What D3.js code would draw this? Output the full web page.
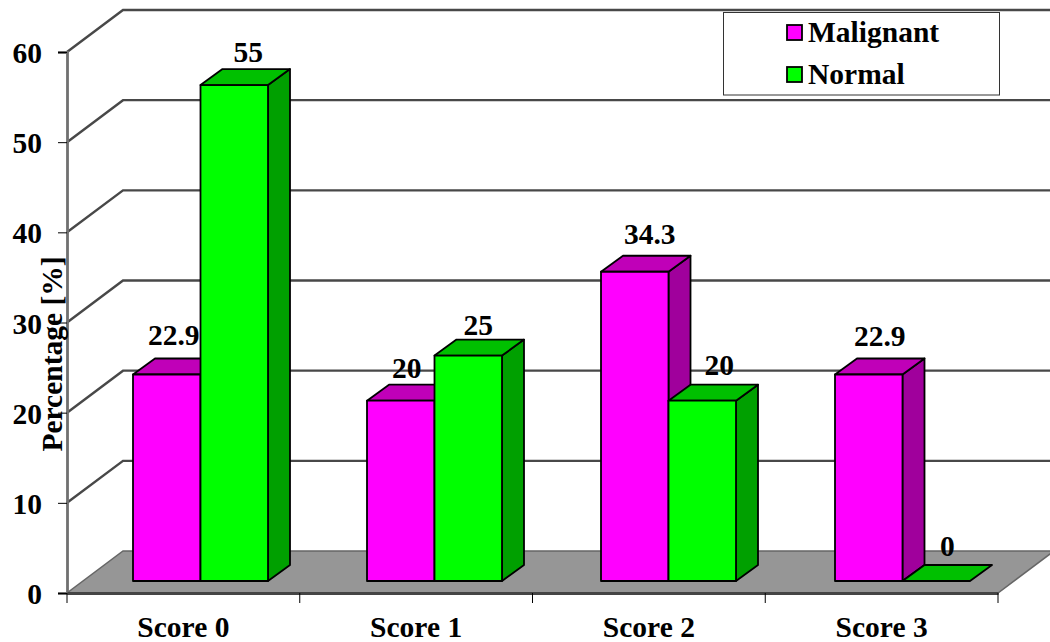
<!DOCTYPE html>
<html>
<head>
<meta charset="utf-8">
<style>
html,body{margin:0;padding:0;background:#fff}
svg{display:block}
text{font-family:"Liberation Serif","Times New Roman",serif;font-weight:bold;fill:#000}
</style>
<script src="https://cdn.jsdelivr.net/npm/d3@7/dist/d3.min.js"></script>
</head>
<body>
<svg id="chart" width="1050" height="642"></svg>
<script>
const categories = ["Score 0", "Score 1", "Score 2", "Score 3"];
const seriesNames = ["Malignant", "Normal"];
const malignant = [22.9, 20, 34.3, 22.9];
const normal = [55, 25, 20, 0];
const yTicks = [0, 10, 20, 30, 40, 50, 60];

const seriesValues = [malignant, normal];
const faceColors = [
  {front: "#ff00ff", side: "#a0009c", top: "#c000b8"},
  {front: "#00ff00", side: "#00a000", top: "#00c000"}
];
// Small per-label shifts that keep value labels clear of neighbouring bars.
const labelNudge = [
  [[-4, -4], [3, 3]],
  [[-5, 3], [-1, 5]],
  [[4, -2], [6, 0]],
  [[0, -3], [0, 1]]
];

const svg = d3.select("#chart");
const fontSize = 29.5;
const x = d3.scaleBand().domain(categories).range([67, 998]);
const barGroup = d3.scaleBand().domain(categories).range([67, 1003]);
const y = d3.scaleLinear().domain([0, 60]).range([593, 52]);
const inner = d3.scaleBand().domain(d3.range(seriesNames.length)).range([66, 201]);

// Projection offsets of the oblique view.
const wall = {dx: 56, dy: -42};
const barFront = {dy: -12};
const barDepth = {dx: 22, dy: -16};
const rightEdge = 1050;
const lineGrey = "#484848";
const pts = a => a.map(p => p.join(",")).join(" ");

// Back wall and side wall gridlines.
svg.append("g").selectAll("polyline").data(yTicks.slice(1)).join("polyline")
  .attr("points", d => pts([[x.range()[0], y(d)], [x.range()[0] + wall.dx, y(d) + wall.dy], [rightEdge, y(d) + wall.dy]]))
  .attr("fill", "none").attr("stroke", lineGrey).attr("stroke-width", 2.4);

// Floor of the plot.
const floorY = y(0);
svg.append("polygon")
  .attr("points", pts([[x.range()[0], floorY], [x.range()[1], floorY],
    [x.range()[1] + wall.dx, floorY + wall.dy], [x.range()[0] + wall.dx, floorY + wall.dy]]))
  .attr("fill", "#969696").attr("stroke", "#666").attr("stroke-width", 1.5);

// Axes.
const yAxis = d3.axisLeft(y).tickValues(yTicks).tickSize(9).tickPadding(16);
const gy = svg.append("g").attr("transform", `translate(${x.range()[0]},0)`).call(yAxis);
gy.select(".domain").attr("stroke", "#707070").attr("stroke-width", 2.8);
gy.selectAll("text").attr("font-size", fontSize).attr("dy", "0.36em").style("font-family", null);

const xAxis = d3.axisBottom(x).tickSize(0).tickPadding(23);
const gx = svg.append("g").attr("transform", `translate(0,${floorY})`).call(xAxis);
gx.select(".domain").attr("stroke", "#444").attr("stroke-width", 2.8);
gx.selectAll("text").attr("font-size", fontSize).style("font-family", null);
gx.selectAll("line.edge").data(d3.range(categories.length + 1)).join("line")
  .attr("class", "edge")
  .attr("x1", i => x.range()[0] + i * x.step()).attr("x2", i => x.range()[0] + i * x.step())
  .attr("y1", 0).attr("y2", 10).attr("stroke", "#000");

// Extruded bars, drawn left to right so nearer faces cover earlier sides.
const bars = svg.append("g").attr("stroke", "#000").attr("stroke-width", 1.8).attr("stroke-linejoin", "round");
const labels = [];
categories.forEach((cat, c) => {
  seriesValues.forEach((vals, s) => {
    const v = vals[c];
    const x0 = barGroup(cat) + inner(s), x1 = x0 + inner.bandwidth();
    const yb = y(0) + barFront.dy, yt = y(v) + barFront.dy;
    const col = faceColors[s];
    if (v > 0) {
      bars.append("polygon").attr("fill", col.side)
        .attr("points", pts([[x1, yb], [x1 + barDepth.dx, yb + barDepth.dy], [x1 + barDepth.dx, yt + barDepth.dy], [x1, yt]]));
    }
    bars.append("polygon").attr("fill", col.top)
      .attr("points", pts([[x0, yt], [x0 + barDepth.dx, yt + barDepth.dy], [x1 + barDepth.dx, yt + barDepth.dy], [x1, yt]]));
    if (v > 0) {
      bars.append("rect").attr("x", x0).attr("y", yt).attr("width", x1 - x0).attr("height", yb - yt).attr("fill", col.front);
    }
    labels.push({v, cx: (x0 + x1) / 2 + 11 + labelNudge[c][s][0], by: yt - 26 + labelNudge[c][s][1]});
  });
});

// Value labels.
svg.append("g").selectAll("text").data(labels).join("text")
  .attr("x", d => d.cx).attr("y", d => d.by)
  .attr("text-anchor", "middle").attr("font-size", fontSize).text(d => d.v);

// Vertical axis title.
svg.append("text").attr("transform", "translate(62,354) rotate(-90)")
  .attr("text-anchor", "middle").attr("font-size", fontSize).text("Percentage [%]");

// Legend.
const legend = svg.append("g");
legend.append("rect").attr("x", 723.5).attr("y", 12.5).attr("width", 276).attr("height", 82.5)
  .attr("fill", "#fff").attr("stroke", "#333").attr("stroke-width", 1);
const legendRow = d3.scalePoint().domain(seriesNames).range([32.5, 74.5]);
seriesNames.forEach((name, s) => {
  legend.append("rect").attr("x", 787).attr("y", legendRow(name) - 7.5).attr("width", 15).attr("height", 15)
    .attr("fill", faceColors[s].front).attr("stroke", "#000").attr("stroke-width", 1.8);
  legend.append("text").attr("x", 808).attr("y", legendRow(name) + 9).attr("font-size", fontSize).text(name);
});
</script>
</body>
</html>
